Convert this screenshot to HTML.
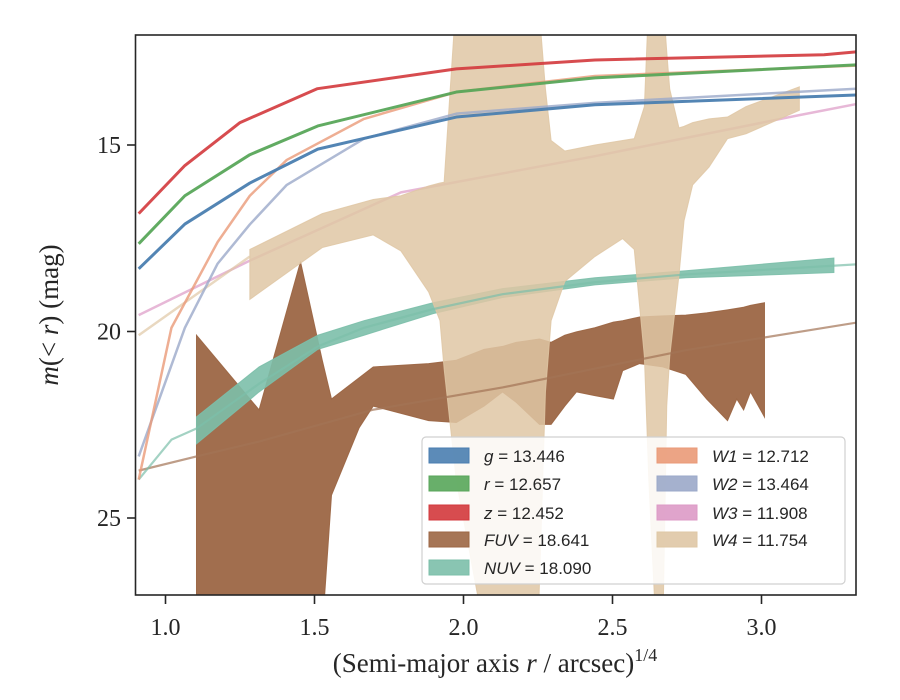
<!DOCTYPE html>
<html><head><meta charset="utf-8"><style>
body{margin:0;background:#fff;}
#wrap{position:relative;width:900px;height:700px;overflow:hidden;}
text{font-family:"Liberation Serif","DejaVu Serif",serif;fill:#262626;}
</style></head><body>
<div id="wrap">
<svg id="svg" width="900" height="700">
<defs><clipPath id="clip"><rect x="135.5" y="35" width="720.5" height="560"/></clipPath></defs>
<g id="plot" clip-path="url(#clip)"></g>
<rect x="135.5" y="35" width="720.5" height="560" fill="none" stroke="#262626" stroke-width="1.6"/>
<g id="axes"></g>
<text x="495" y="672" text-anchor="middle" font-size="27">(Semi-major axis <tspan font-style="italic">r</tspan> / arcsec)<tspan font-size="18" dy="-11">1/4</tspan></text>
<text transform="translate(58,315) rotate(-90)" text-anchor="middle" font-size="27"><tspan font-style="italic">m</tspan>(&lt; <tspan font-style="italic">r</tspan>) (mag)</text>
<g id="legend"></g>
</svg>
</div>
<script>
const xTicks=[1.0,1.5,2.0,2.5,3.0];
const xTickLabels=["1.0","1.5","2.0","2.5","3.0"];
const yTicks=[15,20,25];
const yTickLabels=["15","20","25"];
// model / thin curves
const zX=[0.91,1.065,1.25,1.51,1.976,2.441,3.21,3.32];
const zM=[16.84,15.55,14.40,13.49,12.96,12.72,12.58,12.5];
const rX=[0.91,1.065,1.283,1.511,1.976,2.441,3.32];
const rM=[17.65,16.36,15.26,14.49,13.58,13.2,12.85];
const gX=[0.91,1.065,1.283,1.511,1.976,2.441,3.32];
const gM=[18.32,17.12,16.02,15.11,14.25,13.92,13.66];
const w1X=[0.91,1.02,1.175,1.283,1.407,1.666,1.976,2.441,3.32];
const w1M=[23.97,19.9,17.6,16.36,15.4,14.3,13.58,13.15,12.87];
const w2X=[0.91,1.065,1.175,1.283,1.407,1.666,1.976,2.441,3.32];
const w2M=[23.35,19.9,18.18,17.13,16.07,14.83,14.16,13.87,13.49];
const w3X=[0.91,1.283,1.79,2.441,3.127,3.32];
const w3M=[19.56,18.1,16.27,15.3,14.2,13.9];
const w4LineX=[0.91,1.283];
const w4LineM=[20.1,17.99];
const fuvModelX=[0.91,1.104,1.314,1.695,2.131,2.746,3.32];
const fuvModelM=[23.73,23.35,22.95,22.1,21.5,20.5,19.76];
const nuvModelX=[0.91,1.02,1.104,1.314,1.511,1.666,1.898,2.131,2.441,2.746,3.32];
const nuvModelM=[23.97,22.9,22.6,21.4,20.4,19.9,19.4,19.0,18.68,18.47,18.2];
// bands
const nuvX=[1.104,1.314,1.511,1.666,1.898,2.131,2.441,2.746,3.243];
const nuvUp=[22.29,20.95,20.10,19.71,19.23,18.85,18.56,18.37,18.03];
const nuvLo=[23.01,21.62,20.48,20.10,19.52,19.09,18.75,18.56,18.42];
const fuvX=[1.104,1.314,1.453,1.526,1.557,1.65,1.697,1.883,1.976,2.069,2.131,2.177,2.255,2.294,2.34,2.379,2.441,2.503,2.534,2.591,2.669,2.746,2.816,2.886,2.917,2.94,2.963,3.01];
const fuvUp=[20.10,22.10,18.13,20.77,21.81,21.24,20.95,20.86,20.77,20.48,20.4,20.29,20.2,20.29,20.1,20.01,19.9,19.75,19.71,19.61,19.58,19.56,19.5,19.42,19.38,19.35,19.3,19.23];
const fuvLo=[28,28,28,28,24.39,22.58,22.0,22.39,22.44,22.0,21.62,21.9,22.49,22.49,22.0,21.62,21.72,21.81,21.05,20.86,20.95,21.15,21.81,22.39,21.81,22.10,21.62,22.29];
const w4X=[1.283,1.526,1.697,1.79,1.883,1.921,1.935,1.976,2.069,2.239,2.25,2.275,2.294,2.34,2.441,2.534,2.573,2.607,2.622,2.646,2.669,2.682,2.692,2.723,2.74,2.769,2.824,2.886,2.948,3.127];
const w4Up=[17.80,16.84,16.46,16.36,16.10,16.02,16.0,11,11,11,11,13.5,14.88,15.16,15.0,14.88,14.83,13.97,11,11,11,12.5,13.5,14.54,14.5,14.4,14.3,14.25,13.97,13.44];
const w4Lo=[19.14,17.75,17.41,17.84,18.94,19.71,21,24,28,28,28,21.62,19.71,18.66,17.99,17.51,17.80,20.67,24,28,28,22,20.67,18.5,17.03,16.07,15.59,14.83,14.7,14.07];
const legendLabels=[["g","13.446"],["r","12.657"],["z","12.452"],["FUV","18.641"],["NUV","18.090"],["W1","12.712"],["W2","13.464"],["W3","11.908"],["W4","11.754"]];

const C={g:"#4a7eb0",r:"#58a65a",z:"#d3393c",fuv:"#9c6644",nuv:"#7cbfaa",w1:"#ea9a78",w2:"#9ba9c9",w3:"#dd9ac6",w4:"#dfc7a5"};
const legendColors=[C.g,C.r,C.z,C.fuv,C.nuv,C.w1,C.w2,C.w3,C.w4];
const NS="http://www.w3.org/2000/svg";
function xs(v){return 165.5+(v-1)*298;}
function ys(m){return 145+(m-15)*37.3;}
const plot=document.getElementById('plot');
const axes=document.getElementById('axes');
const legend=document.getElementById('legend');
function mk(tag,attrs,parent){const e=document.createElementNS(NS,tag);for(const k in attrs)e.setAttribute(k,attrs[k]);parent.appendChild(e);return e;}
function band(X,U,L,color,op,name){
  let d="M"+X.map((x,i)=>xs(x)+","+ys(U[i])).join(" L");
  for(let i=X.length-1;i>=0;i--)d+=" L"+xs(X[i])+","+ys(L[i]);
  const p=mk('path',{d:d+"Z",fill:color,"fill-opacity":op,stroke:color,"stroke-opacity":op,"stroke-width":1},plot);
  
  
}
function line(X,M,color,w,op,name){
  const p=mk('polyline',{points:X.map((x,i)=>xs(x)+","+ys(M[i])).join(" "),fill:"none",stroke:color,"stroke-width":w,"stroke-opacity":op,"stroke-linejoin":"round"},plot);
  
  
}
band(fuvX,fuvUp,fuvLo,C.fuv,0.95,'fuv-band');
band(nuvX,nuvUp,nuvLo,C.nuv,0.9,'nuv-band');
line(w3X,w3M,C.w3,2.5,0.7,'w3-curve');
line(w4LineX,w4LineM,C.w4,2.5,0.7,'w4-curve');
band(w4X,w4Up,w4Lo,C.w4,0.85,'w4-band');
line(fuvModelX,fuvModelM,"#a27456",2.2,0.7,'fuv-model-curve');
line(nuvModelX,nuvModelM,C.nuv,2.2,0.7,'nuv-model-curve');
line(w2X,w2M,C.w2,2.5,0.8,'w2-curve');
line(w1X,w1M,C.w1,2.5,0.8,'w1-curve');
line(gX,gM,C.g,3,0.95,'g-curve');
line(rX,rM,C.r,3,0.95,'r-curve');
line(zX,zM,C.z,3,0.9,'z-curve');
// ticks
xTicks.forEach((v,i)=>{
  const t=mk('line',{x1:xs(v),x2:xs(v),y1:595,y2:604,stroke:"#262626","stroke-width":1.6},axes);
  
  
  const l=mk('text',{x:xs(v),y:635,"text-anchor":"middle","font-size":24},axes);
  l.textContent=xTickLabels[i];
  
  
});
yTicks.forEach((v,i)=>{
  const t=mk('line',{x1:127,x2:135.5,y1:ys(v),y2:ys(v),stroke:"#262626","stroke-width":1.6},axes);
  
  
  const l=mk('text',{x:121,y:ys(v)+8,"text-anchor":"end","font-size":24},axes);
  l.textContent=yTickLabels[i];
  
  
});
// legend
const lb=mk('rect',{x:422,y:437,width:423,height:147,rx:4,fill:"#fff","fill-opacity":0.85,stroke:"#d0d0d0","stroke-width":1.2},legend);


const rowsY=[455,483,512,539,567];
legendLabels.forEach((lab,i)=>{
  const col=i<5?0:1, row=i<5?i:i-5;
  const px=col?657:429, ty=rowsY[row];
  const g=mk('g',{},legend);
  
  
  mk('rect',{x:px,y:ty-7,width:40,height:15,fill:legendColors[i],"fill-opacity":0.9,stroke:legendColors[i]},g);
  const t=mk('text',{x:px+55,y:ty+7,"font-size":17,style:'font-family:"Liberation Sans","DejaVu Sans",sans-serif'},g);
  const s=document.createElementNS(NS,'tspan');s.setAttribute('font-style','italic');s.textContent=lab[0];t.appendChild(s);
  t.appendChild(document.createTextNode(" = "+lab[1]));
});
</script>
</body></html>
